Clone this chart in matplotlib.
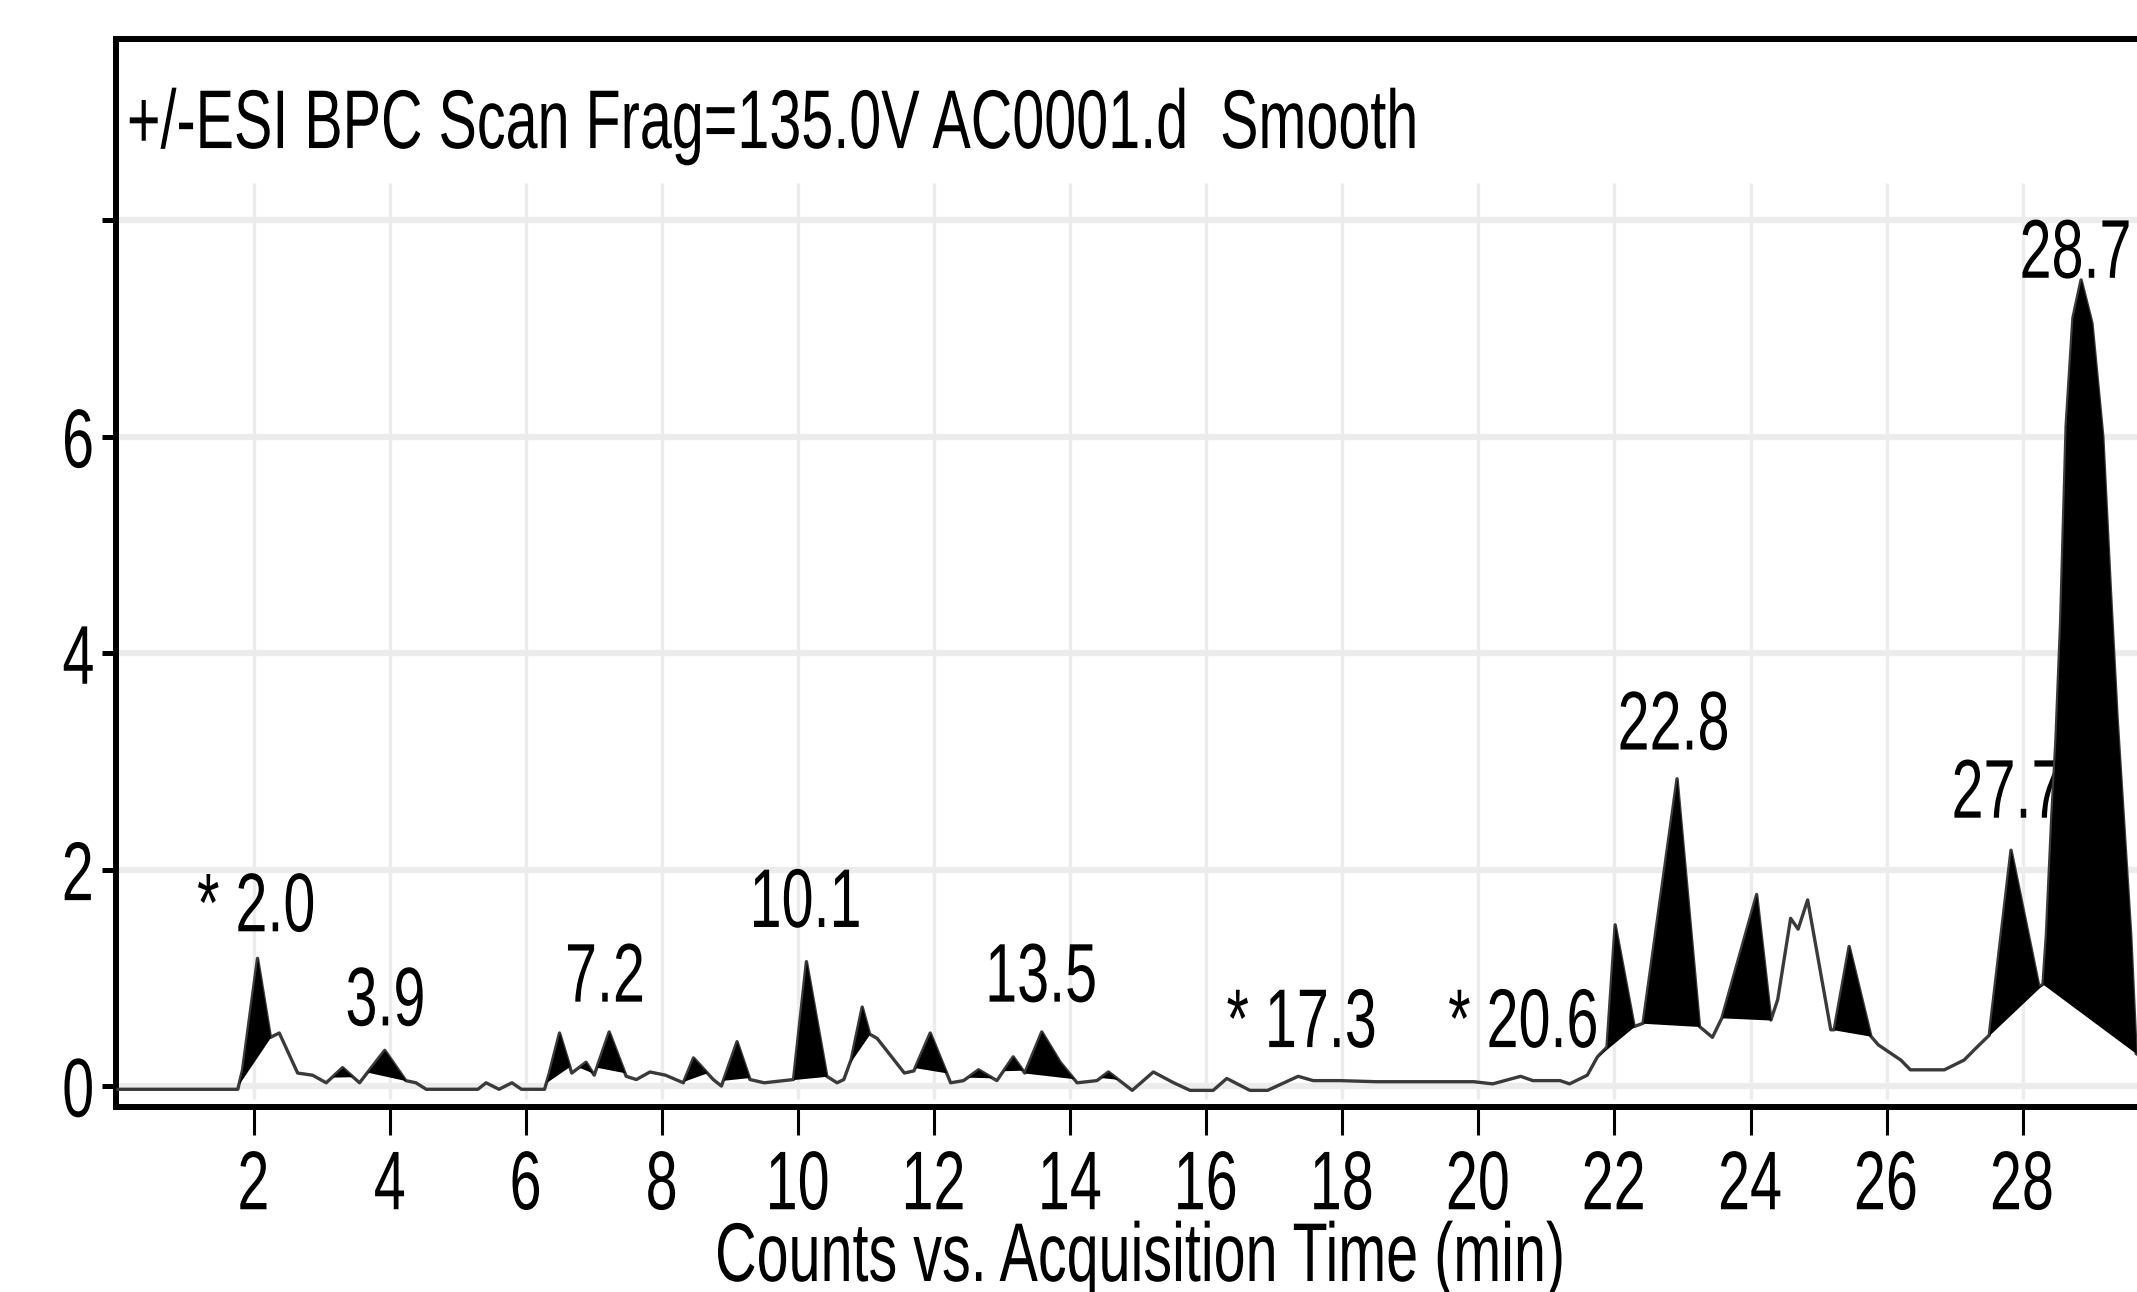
import numpy as np
import matplotlib
matplotlib.use("Agg")
import matplotlib.pyplot as plt
from matplotlib.patheffects import AbstractPathEffect
from matplotlib.transforms import Affine2D

# chromatogram trace (BPC)
time_min = [0.00, 1.76, 1.83, 2.05, 2.24, 2.37, 2.64, 2.86, 3.06, 3.30,
            3.55, 3.92, 4.23, 4.38, 4.53, 5.29, 5.41, 5.60, 5.79, 5.93,
            6.27, 6.34, 6.49, 6.67, 6.88, 7.00, 7.22, 7.47, 7.62, 7.82,
            8.05, 8.31, 8.46, 8.75, 8.87, 9.10, 9.29, 9.50, 9.93, 10.12,
            10.42, 10.57, 10.67, 10.78, 10.94, 11.05, 11.16, 11.41, 11.56, 11.70,
            11.94, 12.24, 12.43, 12.65, 12.92, 13.16, 13.33, 13.58, 13.85, 14.10,
            14.39, 14.56, 14.91, 15.22, 15.52, 15.76, 16.10, 16.30, 16.64, 16.90,
            17.35, 17.57, 17.97, 18.50, 19.00, 19.50, 19.93, 20.21, 20.62, 20.80,
            21.20, 21.34, 21.60, 21.75, 21.89, 22.01, 22.29, 22.42, 22.92, 23.25,
            23.44, 23.58, 24.09, 24.30, 24.40, 24.59, 24.70, 24.84, 25.18, 25.23,
            25.45, 25.77, 25.88, 26.21, 26.35, 26.85, 27.14, 27.33, 27.51, 27.83,
            28.24, 28.30, 28.35, 28.43, 28.49, 28.56, 28.64, 28.74, 28.86, 29.02,
            29.18, 29.29, 29.39, 29.50, 29.59, 29.67, 29.85, 30.10]
counts = [-0.03, -0.03, 0.15, 1.18, 0.45, 0.49, 0.12, 0.10, 0.03, 0.17,
          0.03, 0.33, 0.05, 0.03, -0.03, -0.03, 0.03, -0.03, 0.03, -0.03,
          -0.03, 0.12, 0.49, 0.12, 0.22, 0.10, 0.50, 0.09, 0.06, 0.13,
          0.10, 0.03, 0.26, 0.06, 0.00, 0.41, 0.06, 0.03, 0.06, 1.15,
          0.09, 0.03, 0.06, 0.25, 0.73, 0.48, 0.44, 0.24, 0.12, 0.14,
          0.49, 0.03, 0.05, 0.15, 0.05, 0.27, 0.12, 0.50, 0.22, 0.03,
          0.05, 0.13, -0.04, 0.13, 0.03, -0.04, -0.04, 0.07, -0.04, -0.04,
          0.09, 0.05, 0.05, 0.04, 0.04, 0.04, 0.04, 0.02, 0.09, 0.05,
          0.05, 0.02, 0.10, 0.27, 0.36, 1.49, 0.55, 0.58, 2.84, 0.55,
          0.45, 0.63, 1.77, 0.61, 0.80, 1.55, 1.45, 1.72, 0.52, 0.52,
          1.29, 0.46, 0.38, 0.24, 0.15, 0.15, 0.24, 0.36, 0.47, 2.18,
          0.92, 0.94, 1.40, 2.50, 3.20, 4.30, 6.10, 7.10, 7.45, 7.05,
          6.00, 4.60, 3.40, 2.30, 1.40, 0.30, 0.22, 0.15]

# integrated peaks (start / end of each black area)
peak_start = [1.78, 3.15, 3.67, 6.30, 6.78, 7.04, 8.32, 8.90, 9.93, 10.76, 11.72,
              12.50, 13.02, 13.33, 14.45, 21.75, 22.42, 23.58, 25.22, 27.51, 28.30]
peak_end = [2.24, 3.45, 4.23, 6.64, 6.98, 7.45, 8.66, 9.28, 10.42, 11.05, 12.18,
            12.85, 13.30, 14.05, 14.70, 22.29, 23.25, 24.30, 25.77, 28.30, 29.67]

# peak labels
label_text = ['* 2.0', '3.9', '7.2', '10.1', '13.5', '* 17.3', '* 20.6', '22.8', '27.7', '28.7']
label_rt = [2.04, 3.94, 7.17, 10.12, 13.58, 17.41, 20.67, 22.88, 27.79, 28.79]

x_ticks = [2, 4, 6, 8, 10, 12, 14, 16, 18, 20, 22, 24, 26, 28]
y_ticks = [0, 2, 4, 6, 8]
y_ticklabels = ['0', '2', '4', '6', '']


class Narrow(AbstractPathEffect):
    # squeeze glyphs horizontally (the original uses a narrow font)
    def __init__(self, sx=0.69, anchor='center'):
        super().__init__()
        self.sx = sx
        self.anchor = anchor

    def draw_path(self, renderer, gc, tpath, affine, rgbFace=None):
        v = tpath.vertices
        if self.anchor == 'left' or len(v) == 0:
            cx = 0.0
        elif self.anchor == 'right':
            cx = v[:, 0].max()
        else:
            cx = 0.5 * (v[:, 0].min() + v[:, 0].max())
        pre = Affine2D().translate(-cx, 0).scale(self.sx, 1).translate(cx, 0)
        renderer.draw_path(gc, tpath, pre + affine, rgbFace)


plt.rcParams['font.family'] = ['Liberation Sans', 'DejaVu Sans']
FS = 60
SX = 0.69

fig = plt.figure(figsize=(21.37, 12.92), dpi=100)
ax = fig.add_axes([0.0543, 0.1435, 0.959, 0.8266])
ax.set_xlim(-0.03, 30.1)
ax.set_ylim(-0.19, 9.68)

# grid
for yv in y_ticks:
    ax.axhline(yv, color='#ececec', lw=4.5, zorder=0)
ax.vlines(x_ticks, -0.12, 8.35, color='#ececec', lw=2.4, zorder=0)

t = np.array(time_min)
c = np.array(counts)

# labels sit under the fills (27.7 is partly hidden by the big peak)
label_y = [1.43, 0.56, 0.78, 1.47, 0.78, 0.36, 0.36, 3.11, 2.48, 7.47]
for txt, xr, yl in zip(label_text, label_rt, label_y):
    ax.text(xr, yl, txt, ha='center', va='baseline', fontsize=FS, zorder=2,
            path_effects=[Narrow(SX, 'center')])

ax.plot(t, c, color='#3a3a3a', lw=2.4, zorder=3)

for s, e in zip(peak_start, peak_end):
    xs = np.union1d(np.linspace(s, e, 80), t[(t > s) & (t < e)])
    ys = np.interp(xs, t, c)
    base = np.interp(xs, [s, e], [ys[0], ys[-1]])
    ax.fill_between(xs, base, ys, where=ys >= base, interpolate=True,
                    color='black', lw=0, zorder=4)

ax.set_xticks(x_ticks)
ax.set_xticklabels([str(v) for v in x_ticks])
ax.set_yticks(y_ticks)
ax.set_yticklabels(y_ticklabels)
ax.tick_params(axis='x', length=20, width=2.2, pad=10, labelsize=FS, color='black')
ax.tick_params(axis='y', length=10, width=3.6, pad=5, labelsize=FS, color='black')
for lbl in ax.get_xticklabels():
    lbl.set_path_effects([Narrow(SX, 'center')])
for lbl in ax.get_yticklabels():
    lbl.set_path_effects([Narrow(SX, 'right')])
for sp in ax.spines.values():
    sp.set_linewidth(4.3)
    sp.set_color('black')

fig.text(0.0594, 0.8854, '+/-ESI BPC Scan Frag=135.0V AC0001.d  Smooth',
         ha='left', va='baseline', fontsize=FS, path_effects=[Narrow(SX, 'left')])
fig.text(0.534, 0.0085, 'Counts vs. Acquisition Time (min)',
         ha='center', va='baseline', fontsize=FS, path_effects=[Narrow(SX, 'center')])

fig.savefig('out.png', dpi=100)
